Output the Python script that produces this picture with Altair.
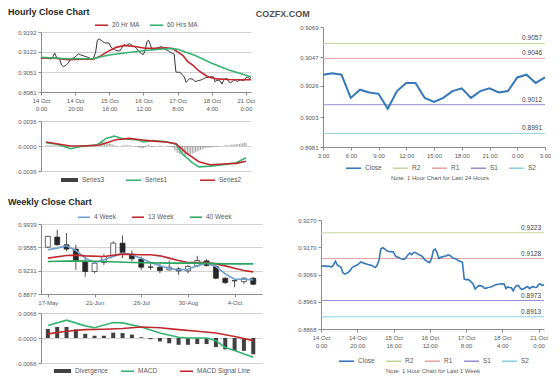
import json
import altair as alt
import pandas as pd

FONT = "Liberation Sans"
LABEL = "#595959"
AXIS = "#8c8c8c"
GRID = "#c6c6c6"
TEXT = "#404040"

# ---------------- hourly close, last week (index = trading hour) ----------------
hourly_close = [
    0.9101, 0.9100, 0.9101, 0.9099, 0.9100, 0.9098, 0.9097, 0.9106, 0.9118, 0.9104,
    0.9099, 0.9096, 0.9076, 0.9071, 0.9073, 0.9077, 0.9083, 0.9093, 0.9099, 0.9101,
    0.9104, 0.9110, 0.9115, 0.9112, 0.9110, 0.9108, 0.9106, 0.9104, 0.9102, 0.9098,
    0.9095, 0.9104, 0.9121, 0.9163, 0.9168, 0.9164, 0.9158, 0.9155, 0.9153, 0.9154,
    0.9152, 0.9138, 0.9133, 0.9132, 0.9127, 0.9126, 0.9125, 0.9133, 0.9142, 0.9148,
    0.9142, 0.9149, 0.9151, 0.9146, 0.9142, 0.9140, 0.9134, 0.9125, 0.9120, 0.9115,
    0.9113, 0.9128, 0.9158, 0.9163, 0.9149, 0.9128, 0.9133, 0.9134, 0.9136, 0.9137,
    0.9141, 0.9139, 0.9135, 0.9129, 0.9128, 0.9124, 0.9120, 0.9117, 0.9114, 0.9052,
    0.9050, 0.9051, 0.9047, 0.9040, 0.9033, 0.9015, 0.9022, 0.9028, 0.9027, 0.9026,
    0.9019, 0.9018, 0.9021, 0.9022, 0.9024, 0.9027, 0.9030, 0.9032, 0.9033,
    0.9034, 0.9035, 0.9034, 0.9017, 0.9023, 0.9021, 0.9020, 0.9009, 0.9022, 0.9028,
    0.9028, 0.9017, 0.9014, 0.9017, 0.9022, 0.9024, 0.9017, 0.9022, 0.9024, 0.9021,
    0.9022, 0.9032, 0.9034, 0.9028, 0.9032,
]
hourly_ticks = [0, 20, 40, 60, 80, 100, 120]
hourly_tick_labels = [["14 Oct", "0:00"], ["14 Oct", "20:00"], ["15 Oct", "16:00"],
                      ["16 Oct", "12:00"], ["17 Oct", "8:00"], ["18 Oct", "4:00"],
                      ["21 Oct", "0:00"]]
hourly_y_ticks = [0.8981, 0.9051, 0.9122, 0.9192]

ma_names = ["20 Hr MA", "60 Hrs MA"]
ma20_idx = [0, 8, 16, 24, 31, 35, 39, 44, 49, 55, 61, 67, 73, 77, 80, 83, 86, 89, 92, 95, 98, 103, 110, 117, 123]
ma20 = [0.9101, 0.9100, 0.9095, 0.9096, 0.9097, 0.9108, 0.9123, 0.9138, 0.9145, 0.9141,
        0.9135, 0.9135, 0.9136, 0.9134, 0.9122, 0.9110, 0.9088, 0.9075, 0.9058, 0.9045,
        0.9034, 0.9027, 0.9025, 0.9024, 0.9024]
ma60_idx = [0, 15, 31, 39, 49, 61, 71, 77, 80, 90, 100, 110, 123]
ma60 = [0.9103, 0.9098, 0.9099, 0.9110, 0.9118, 0.9127, 0.9132, 0.9134, 0.9131, 0.9110,
        0.9082, 0.9058, 0.9035]

# hourly MACD
macd_h_names = ["Series3", "Series1", "Series2"]
hourly_hist = [
    0.0001, 0.0001, 0.0001, 0.0001, 0.0001, 0.0001, 0.0001, 0.0001, 0.0002, 0.0001, 0.0001,
    0.0000, -0.0001, -0.0002, -0.0002, -0.0001, -0.0001, 0.0000, 0.0000, 0.0000, 0.0000,
    0.0001, 0.0001, 0.0001, 0.0000, 0.0000, 0.0000, 0.0000, 0.0000, -0.0001, -0.0001,
    0.0000, 0.0002, 0.0005, 0.0006, 0.0006, 0.0005, 0.0005, 0.0004, 0.0004, 0.0003,
    0.0002, 0.0001, 0.0001, 0.0000, 0.0000, 0.0000, 0.0001, 0.0001, 0.0001, 0.0001,
    0.0001, 0.0001, 0.0000, 0.0000, -0.0001, -0.0001, -0.0002, -0.0003, -0.0003, -0.0003,
    -0.0002, 0.0001, 0.0002, 0.0001, -0.0001, -0.0001, 0.0000, 0.0000, 0.0000, 0.0001,
    0.0001, 0.0000, 0.0000, 0.0000, -0.0001, -0.0001, -0.0001, -0.0002, -0.0006, -0.0008,
    -0.0010, -0.0011, -0.0012, -0.0013, -0.0014, -0.0014, -0.0013, -0.0013, -0.0012, -0.0011,
    -0.0010, -0.0009, -0.0008, -0.0007, -0.0006, -0.0005, -0.0004, -0.0003, -0.0003, -0.0002,
    -0.0002, -0.0002, -0.0001, -0.0001, -0.0001, -0.0001, 0.0000, 0.0000, 0.0000, 0.0001,
    0.0001, 0.0001, 0.0001, 0.0002, 0.0002, 0.0002, 0.0003, 0.0003, 0.0003, 0.0004,
    0.0004, 0.0005, 0.0005,
]
hourly_macd_idx = [0, 7, 15, 23, 31, 33, 37, 42, 47, 53, 57, 60, 66, 74, 80, 84, 90, 94, 101, 109, 117, 123]
hourly_macd = [0.00048, 0.00024, -0.0004, 0.0, 0.00012, 0.0004, 0.0011, 0.00144, 0.00106, 0.00096,
               0.00086, 0.00058, 0.0008, 0.0006, 0.00024, -0.0012, -0.0024, -0.003, -0.0029,
               -0.0027, -0.0024, -0.0017]
hourly_signal_idx = [0, 15, 23, 33, 43, 51, 58, 66, 74, 80, 86, 94, 101, 109, 117, 123]
hourly_signal = [0.00058, 0.0, 0.0, 0.00014, 0.00091, 0.0011, 0.0009, 0.0007, 0.00058, 0.00034,
                 -0.00096, -0.00226, -0.0027, -0.0026, -0.0025, -0.0022]
hourly_macd_ticks = [-0.0036, 0.0, 0.0036]

# ---------------- pivot charts ----------------
pivot_series = ["Close", "R2", "R1", "S1", "S2"]
pivot_colors = ["#3577b8", "#c4d79b", "#e6a3a3", "#9a8fca", "#8fcfe0"]
pivot_names = ["R2", "R1", "S1", "S2"]
day_first = 99
day_ticks = [0, 3, 6, 9, 12, 15, 18, 21, 24]
day_tick_labels = ["3:00", "6:00", "9:00", "12:00", "15:00", "18:00", "21:00", "0:00", "3:00"]
day_y_ticks = [0.8981, 0.9003, 0.9026, 0.9047, 0.9069]
day_pivots = [0.9057, 0.9046, 0.9012, 0.8991]
week_y_ticks = [0.8868, 0.8969, 0.9069, 0.9170, 0.9270]
week_pivots = [0.9223, 0.9128, 0.8973, 0.8913]

# ---------------- weekly candles ----------------
weekly_open = [0.9588, 0.9741, 0.9624, 0.9558, 0.9370, 0.9218, 0.9355, 0.9456, 0.9649, 0.9482,
               0.9406, 0.9288, 0.9283, 0.9243, 0.9258, 0.9228, 0.9304, 0.9380, 0.9294, 0.9116,
               0.9080, 0.9065, 0.9116]
weekly_close = [0.9751, 0.9624, 0.9558, 0.9385, 0.9218, 0.9344, 0.9446, 0.9649, 0.9507, 0.9411,
                0.9283, 0.9283, 0.9233, 0.9283, 0.9228, 0.9294, 0.9385, 0.9309, 0.9116, 0.9050,
                0.9076, 0.9116, 0.9025]
weekly_high = [0.9760, 0.9853, 0.9802, 0.9624, 0.9446, 0.9370, 0.9482, 0.9675, 0.9766, 0.9538,
               0.9446, 0.9355, 0.9334, 0.9385, 0.9283, 0.9319, 0.9456, 0.9406, 0.9319, 0.9131,
               0.9080, 0.9131, 0.9131]
weekly_low = [0.9573, 0.9609, 0.9522, 0.9243, 0.9141, 0.9192, 0.9319, 0.9446, 0.9421, 0.9370,
              0.9243, 0.9243, 0.9192, 0.9233, 0.9167, 0.9192, 0.9283, 0.9294, 0.9101, 0.9030,
              0.8979, 0.9030, 0.9010]
weekly_ticks = [0, 5, 10, 15, 20]
weekly_tick_labels = ["17-May", "21-Jun", "26-Jul", "30-Aug", "4-Oct"]
weekly_y_ticks = [0.8877, 0.9231, 0.9585, 0.9939]

wma_names = ["4 Week", "13 Week", "40 Week"]
wma4 = [0.9548, 0.9573, 0.9609, 0.9538, 0.9421, 0.9355, 0.9395, 0.9446, 0.9497, 0.9472,
        0.9421, 0.9355, 0.9304, 0.9268, 0.9243, 0.9253, 0.9304, 0.9345, 0.9294, 0.9182,
        0.9101, 0.9101, 0.9091]
wma13_idx = [0, 2, 3, 4, 6, 8, 10, 11, 12, 13, 14, 15, 16, 17, 18, 19, 20, 21, 22]
wma13 = [0.9421, 0.9461, 0.9467, 0.9456, 0.9446, 0.9482, 0.9472, 0.9472, 0.9456, 0.9421,
         0.9385, 0.9355, 0.9355, 0.9355, 0.9334, 0.9304, 0.9268, 0.9233, 0.9213]
wma40_idx = [0, 3, 6, 9, 13, 16, 19, 22]
wma40 = [0.9370, 0.9380, 0.9370, 0.9355, 0.9345, 0.9345, 0.9334, 0.9334]

macd_w_names = ["Divergence", "MACD", "MACD Signal Line"]
weekly_div = [0.0024, 0.0029, 0.0029, 0.0023, 0.0011, 0.0006, 0.0006, 0.0014, 0.0013, 0.0009,
              0.0002, -0.0003, -0.0009, -0.0014, -0.0018, -0.0018, -0.0016, -0.0016, -0.0024,
              -0.0030, -0.0034, -0.0034, -0.0043]
weekly_macd_idx = [0, 2, 4, 5, 7, 8, 10, 12, 14, 15, 17, 18, 19, 20, 22]
weekly_macd = [0.0033, 0.0047, 0.0032, 0.0027, 0.0041, 0.0040, 0.0029, 0.0013, 0.0002, 0.0000,
               0.0000, -0.0007, -0.0025, -0.0033, -0.0051]
weekly_signal_idx = [0, 2, 4, 6, 8, 10, 12, 14, 16, 18, 20, 22]
weekly_signal = [0.0011, 0.0018, 0.0022, 0.0023, 0.0025, 0.0029, 0.0027, 0.0022, 0.0018, 0.0013,
                 0.0004, -0.0007]
weekly_macd_ticks = [-0.0066, 0.0, 0.0066]

RED = "#c0282d"
GREEN = "#35b36f"
MINUS_EXPR = "(datum.value < 0 ? '-' : '') + format(abs(datum.value), '.4f')"


# ---------------- helpers ----------------
def y_axis(values, grid, min_extent=None, signed=False):
    kw = dict(values=values, grid=grid, gridColor=GRID, gridWidth=0.8,
              domainColor=AXIS, tickColor=AXIS, tickSize=3,
              labelFontSize=6, labelColor=LABEL, labelFont=FONT, labelPadding=2,
              labelFlush=False, labelOverlap=False, title=None)
    if signed:
        kw["labelExpr"] = MINUS_EXPR
    else:
        kw["format"] = ".4f"
    if min_extent:
        kw["minExtent"] = min_extent
    return alt.Axis(**kw)


def x_axis(values, labels, step):
    return alt.Axis(values=values,
                    labelExpr=json.dumps(labels) + f"[round(datum.value / {step})]",
                    grid=False, domainColor=AXIS, tickColor=AXIS, tickSize=3,
                    labelFontSize=6, labelColor=LABEL, labelFont=FONT, labelPadding=2,
                    labelLineHeight=8, labelFlush=False, labelOverlap=False, title=None)


def legend(x, y, length, pad, kind="line", note=None, opacity=None):
    # symbols are drawn at size 100 (a 10px cell); the path starts at the cell's left edge
    e = round((length - 5) / 5, 2)
    if kind == "bar":
        path = f"M-1,-0.4L{e},-0.4L{e},0.4L-1,0.4Z"
    else:
        path = f"M-1,0L{e},0"
    kw = dict(orient="none", legendX=x, legendY=y, direction="horizontal",
              symbolType=path, symbolSize=100, symbolStrokeWidth=1.6,
              labelFontSize=6.5, labelColor=LABEL, labelFont=FONT,
              labelOffset=length - 10 + 3, columnPadding=pad)
    if note:
        kw.update(title=note, titleOrient="bottom", titleAnchor="middle", titleFontSize=6,
                  titleFontWeight="normal", titleColor=LABEL, titleFont=FONT,
                  titlePadding=3, titleLimit=400)
    else:
        kw["title"] = None
    if opacity is not None:
        kw["symbolOpacity"] = opacity
    return alt.Legend(**kw)


def qscale(lo, hi):
    return alt.Scale(domain=[lo, hi], nice=False, zero=False)


def long_df(idx, vals, name):
    return pd.DataFrame({"idx": idx, "value": vals, "series": name})


def legend_strip(df, names, colors, width, lg):
    """A 1px-high view that only carries the legend of a price panel."""
    return alt.Chart(df).mark_line(opacity=0).encode(
        x=alt.X("idx:Q", axis=None),
        y=alt.Y("value:Q", axis=None, scale=alt.Scale(zero=False)),
        stroke=alt.Stroke("series:N", scale=alt.Scale(domain=names, range=colors), legend=lg),
    ).properties(width=width, height=1)


# ---------------- hourly price ----------------
hourly_df = pd.DataFrame({"idx": list(range(len(hourly_close))), "close": hourly_close,
                          "hist": hourly_hist, "bar": "Series3"})
hx = alt.X("idx:Q", scale=qscale(0, 123), axis=x_axis(hourly_ticks, hourly_tick_labels, 20))
hy_scale = qscale(hourly_y_ticks[0], hourly_y_ticks[-1])
hy_axis = y_axis(hourly_y_ticks, True, 33)
ma_df = pd.concat([long_df(ma20_idx, ma20, ma_names[0]), long_df(ma60_idx, ma60, ma_names[1])])
ma_colors = [RED, GREEN]

h_close = alt.Chart(hourly_df).mark_line(color="#333333", strokeWidth=1).encode(
    x=hx, y=alt.Y("close:Q", scale=hy_scale, axis=hy_axis))
h_ma = alt.Chart(ma_df).mark_line(strokeWidth=1.6).encode(
    x=hx, y=alt.Y("value:Q", scale=hy_scale, axis=hy_axis),
    stroke=alt.Stroke("series:N", scale=alt.Scale(domain=ma_names, range=ma_colors),
                      legend=None))
hourly_price = alt.layer(h_close, h_ma).properties(width=210, height=60)
hourly_legend = legend_strip(ma_df, ma_names, ma_colors, 210,
                             legend(53, -8, 13, 6, opacity=1))

# ---------------- hourly MACD ----------------
mx = alt.X("idx:Q", scale=qscale(0, 123), axis=None)
my_scale = qscale(hourly_macd_ticks[0], hourly_macd_ticks[-1])
my_axis = y_axis(hourly_macd_ticks, True, 33, signed=True)
hm_df = pd.concat([long_df(hourly_macd_idx, hourly_macd, macd_h_names[1]),
                   long_df(hourly_signal_idx, hourly_signal, macd_h_names[2])])
hm_bars = alt.Chart(hourly_df).mark_bar(size=1, opacity=0.45).encode(
    x=mx, y=alt.Y("hist:Q", scale=my_scale, axis=my_axis),
    fill=alt.Fill("bar:N", scale=alt.Scale(domain=[macd_h_names[0]], range=["#404040"]),
                  legend=legend(19, 53, 17, 8, kind="bar", opacity=1)))
hm_lines = alt.Chart(hm_df).mark_line(strokeWidth=1.6).encode(
    x=mx, y=alt.Y("value:Q", scale=my_scale, axis=my_axis),
    stroke=alt.Stroke("series:N", scale=alt.Scale(domain=macd_h_names[1:], range=[GREEN, RED]),
                      legend=legend(84, 53, 15, 28)))
hourly_macd_chart = alt.layer(hm_bars, hm_lines).properties(width=210, height=50)


# ---------------- pivot charts ----------------
def pivot_chart(closes, x_max, xaxis, y_ticks, pivots, width, height, lx, ly, note,
                line_width):
    cdf = pd.DataFrame({"idx": list(range(len(closes))), "value": closes, "series": "Close"})
    pdf = pd.DataFrame({"series": pivot_names, "value": pivots})
    ys = qscale(y_ticks[0], y_ticks[-1])
    xs = qscale(0, x_max)
    ya = y_axis(y_ticks, False)
    x = alt.X("idx:Q", scale=xs, axis=xaxis)
    cs = alt.Scale(domain=pivot_series, range=pivot_colors)
    lg = legend(lx, ly, 15, 7, note=note)
    rules = alt.Chart(pdf).mark_rule(strokeWidth=1).encode(
        y=alt.Y("value:Q", scale=ys, axis=ya),
        stroke=alt.Stroke("series:N", scale=cs, legend=lg))
    line = alt.Chart(cdf).mark_line(strokeWidth=line_width).encode(
        x=x, y=alt.Y("value:Q", scale=ys, axis=ya),
        stroke=alt.Stroke("series:N", scale=cs, legend=lg))
    texts = alt.Chart(pdf).mark_text(align="right", baseline="bottom", dx=-3, dy=-2,
                                     fontSize=6.5, font=FONT, color=TEXT).encode(
        x=alt.XDatum(x_max, type="quantitative", scale=xs, axis=xaxis),
        y=alt.Y("value:Q", scale=ys, axis=ya),
        text=alt.Text("value:Q", format=".4f"))
    return alt.layer(rules, line, texts).properties(width=width, height=height)


right_top = pivot_chart(hourly_close[day_first:], 24, x_axis(day_ticks, day_tick_labels, 3),
                        day_y_ticks, day_pivots, 222, 120, 22, 135,
                        "Note: 1 Hour Chart for Last 24 Hours", 2).properties(
    title=alt.TitleParams(" ", fontSize=2, offset=1.5))
right_bottom = pivot_chart(hourly_close, 123, x_axis(hourly_ticks, hourly_tick_labels, 20),
                           week_y_ticks, week_pivots, 223, 109, 17, 135,
                           "Note: 1 Hour Chart for Last 1 Week", 1.6)

# ---------------- weekly candles ----------------
wk_df = pd.DataFrame({"idx": list(range(len(weekly_open))), "open": weekly_open,
                      "close": weekly_close, "high": weekly_high, "low": weekly_low})
wk_df["dir"] = ["up" if c > o else "down" for o, c in zip(weekly_open, weekly_close)]
wx = alt.X("idx:Q", scale=qscale(-0.2, 22.4), axis=x_axis(weekly_ticks, weekly_tick_labels, 5))
wy_scale = qscale(weekly_y_ticks[0], weekly_y_ticks[-1])
wy_axis = y_axis(weekly_y_ticks, True, 33)
wma_df = pd.concat([long_df(list(range(len(wma4))), wma4, wma_names[0]),
                    long_df(wma13_idx, wma13, wma_names[1]),
                    long_df(wma40_idx, wma40, wma_names[2])])
wma_colors = ["#6f9fcf", RED, "#2aa660"]

wicks = alt.Chart(wk_df).mark_rule(color="#262626", strokeWidth=0.8).encode(
    x=wx, y=alt.Y("low:Q", scale=wy_scale, axis=wy_axis), y2="high:Q")
bodies = alt.Chart(wk_df).mark_bar(size=5, stroke="#262626", strokeWidth=0.7).encode(
    x=wx, y=alt.Y("open:Q", scale=wy_scale, axis=wy_axis), y2="close:Q",
    fill=alt.Fill("dir:N", scale=alt.Scale(domain=["up", "down"], range=["#ffffff", "#262626"]),
                  legend=None))
wma_lines = alt.Chart(wma_df).mark_line(strokeWidth=1.6).encode(
    x=wx, y=alt.Y("value:Q", scale=wy_scale, axis=wy_axis),
    stroke=alt.Stroke("series:N", scale=alt.Scale(domain=wma_names, range=wma_colors),
                      legend=None))
weekly_price = alt.layer(wicks, bodies, wma_lines).properties(width=221, height=70)
weekly_legend = legend_strip(wma_df, wma_names, wma_colors, 221,
                             legend(36, -9, 12, 12, opacity=1))

# ---------------- weekly MACD ----------------
wmx = alt.X("idx:Q", scale=qscale(-0.2, 22.4), axis=None)
wmy_scale = qscale(weekly_macd_ticks[0], weekly_macd_ticks[-1])
wmy_axis = y_axis(weekly_macd_ticks, True, 33, signed=True)
wdiv_df = pd.DataFrame({"idx": list(range(len(weekly_div))), "div": weekly_div,
                        "bar": macd_w_names[0]})
wm_df = pd.concat([long_df(weekly_macd_idx, weekly_macd, macd_w_names[1]),
                   long_df(weekly_signal_idx, weekly_signal, macd_w_names[2])])
wm_bars = alt.Chart(wdiv_df).mark_bar(size=4).encode(
    x=wmx, y=alt.Y("div:Q", scale=wmy_scale, axis=wmy_axis),
    fill=alt.Fill("bar:N", scale=alt.Scale(domain=[macd_w_names[0]], range=["#404040"]),
                  legend=legend(12, 52, 17, 8, kind="bar")))
wm_lines = alt.Chart(wm_df).mark_line(strokeWidth=1.6).encode(
    x=wmx, y=alt.Y("value:Q", scale=wmy_scale, axis=wmy_axis),
    stroke=alt.Stroke("series:N", scale=alt.Scale(domain=macd_w_names[1:], range=[GREEN, RED]),
                      legend=legend(79, 52, 13, 18)))
weekly_macd_chart = alt.layer(wm_bars, wm_lines).properties(width=221, height=50)


# ---------------- assemble ----------------
def indep(c):
    return c.resolve_scale(x="independent", y="independent", stroke="independent",
                           fill="independent").resolve_legend(stroke="independent",
                                                              fill="independent")


def section_title(text, dx=0, color="#262626", offset=2):
    return alt.TitleParams(text, anchor="start", dx=dx, fontSize=9, fontWeight="bold",
                           font=FONT, color=color, offset=offset)


left_top = indep(alt.vconcat(
    hourly_legend,
    indep(alt.vconcat(hourly_price, hourly_macd_chart, spacing=7)),
    spacing=0, title=section_title("Hourly Close Chart")))
right_top_wrap = indep(alt.vconcat(right_top, title=section_title("COZFX.COM", -44, "#505050")))
left_bottom = indep(alt.vconcat(
    weekly_legend,
    indep(alt.vconcat(weekly_price, weekly_macd_chart, spacing=5)),
    spacing=0, title=section_title("Weekly Close Chart", offset=4)))
top_row = indep(alt.hconcat(left_top, right_top_wrap, spacing=0))
bottom_row = indep(alt.hconcat(left_bottom, right_bottom, spacing=35))
chart = indep(alt.vconcat(top_row, bottom_row, spacing=14)).properties(padding=0)
chart = chart.configure_view(stroke=None).configure_axis(labelOverlap=False)

chart.save("out.html", embed_options={"renderer": "svg", "actions": False})
